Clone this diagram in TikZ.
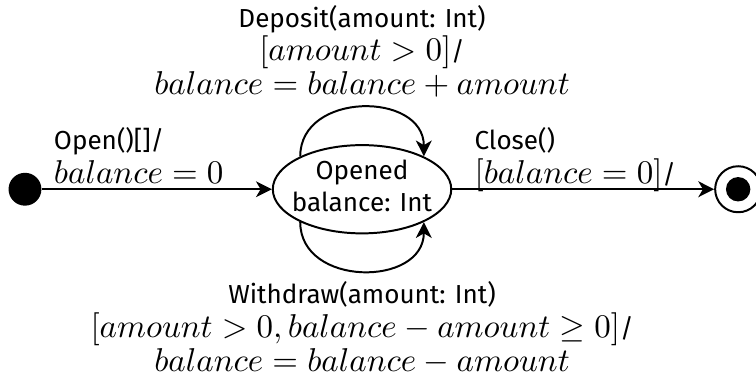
\documentclass[tikz,border=0pt]{standalone}
\usepackage{fontspec}
\setmainfont{Fira Sans}[Scale=0.79]
\usetikzlibrary{arrows.meta,shapes.geometric}
\newcommand\tightfont{\fontsize{10}{10.2}\selectfont\lineskiplimit=-20pt\relax}

\begin{document}
\begin{tikzpicture}[>={Stealth[length=4.8pt,width=4.8pt,inset=1.4pt]}, semithick,
    font=\tightfont,
    lbl/.style={inner sep=1.5pt, text depth=0pt}]
   \useasboundingbox (0,0) rectangle (8.05,4.06);
   \node[circle, fill, inner sep=0pt, minimum size=.35cm] (I) at (.266,2.045) {};
   \node[ellipse, draw, inner sep=0pt, minimum width=1.9cm, minimum height=.94cm] (O) at (3.855,2.045) {};
   \node[align=center, inner sep=0pt, font=\fontsize{10}{9.6}\selectfont] (Otxt) at ([yshift=1pt]O) {Opened\\balance: Int};
   \node[circle, draw, inner sep=0pt, minimum size=.49cm] (F) at (7.86,2.045) {};
   \node[circle, fill, inner sep=0pt, minimum size=.26cm] (F2) at (F) {};
   \draw[->] (I) -- (O) node[lbl, pos=.42, above, align=left] {Open()[]/\\$balance = 0$};
   \draw[->] (O) -- (F) node[lbl, pos=.47, above, align=left] {Close()\\$[balance = 0]$/};
   \draw[->] (O.152) to[out=90, in=90, looseness=1.35] node[lbl, midway, above=2.2pt, align=center] {Deposit(amount: Int)\\$[amount > 0]$/\\$balance = balance + amount$} (O.28);
   \draw[->] (O.208) to[out=-90, in=-90, looseness=1.35] node[lbl, midway, below=1.5pt, align=center] {Withdraw(amount: Int)\\$[amount > 0, balance - amount \geq 0]$/\\$balance = balance - amount$} (O.332);
\end{tikzpicture}
\end{document}
